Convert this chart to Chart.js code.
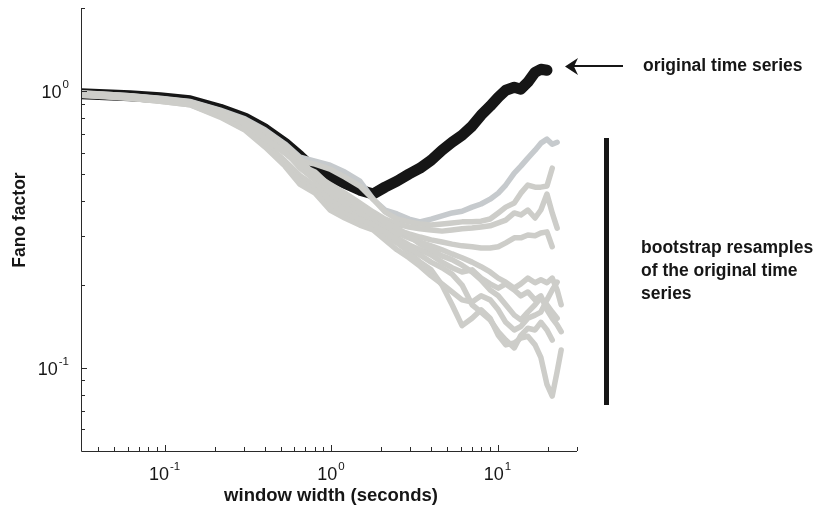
<!DOCTYPE html>
<html>
<head>
<meta charset="utf-8">
<title>Fano factor vs window width</title>
<script src="https://cdn.jsdelivr.net/npm/chart.js@4.4.1/dist/chart.umd.min.js"></script>
<style>
  html, body { margin: 0; padding: 0; background: #ffffff; }
  canvas { display: block; }
</style>
</head>
<body>
<canvas id="fano" width="817" height="510"></canvas>
<script>
// Counting window widths (seconds), shared by every curve
const windowWidths = [0.0315, 0.044, 0.062, 0.094, 0.142, 0.216, 0.304, 0.402, 0.529, 0.652,
  0.802, 0.986, 1.21, 1.49, 1.79, 2.11, 2.49, 2.94, 3.42, 3.99,
  4.64, 5.33, 6.12, 7.03, 7.96, 9.02, 10.1, 11.2, 12.6, 13.8,
  15.2, 16.8, 18.2, 19.8, 21.3, 22.8, 24.1];

// Fano factor of the original time series
const original = [0.979, 0.971, 0.963, 0.947, 0.924, 0.861, 0.799, 0.729, 0.649, 0.582,
  0.518, 0.493, 0.465, 0.439, 0.425, 0.450, 0.473, 0.502, 0.527, 0.563,
  0.612, 0.654, 0.693, 0.748, 0.819, 0.883, 0.951, 1.008, 1.034, 1.017,
  1.078, 1.171, 1.201, 1.191];

// Fano factor of ten bootstrap resamples
const resample1 = [0.984, 0.975, 0.963, 0.944, 0.918, 0.855, 0.794, 0.724, 0.645, 0.577,
  0.559, 0.540, 0.510, 0.473, 0.407, 0.372, 0.360, 0.345, 0.337, 0.345,
  0.354, 0.363, 0.368, 0.381, 0.391, 0.407, 0.428, 0.458, 0.506, 0.536,
  0.573, 0.612, 0.649, 0.671, 0.643, 0.654];
const resample2 = [0.979, 0.971, 0.959, 0.940, 0.913, 0.847, 0.779, 0.705, 0.628, 0.559,
  0.545, 0.523, 0.489, 0.454, 0.407, 0.366, 0.345, 0.337, 0.331, 0.328,
  0.331, 0.334, 0.337, 0.337, 0.339, 0.345, 0.363, 0.381, 0.394, 0.428,
  0.458, 0.450, 0.450, 0.454, 0.527];
const resample3 = [0.975, 0.967, 0.955, 0.936, 0.909, 0.840, 0.773, 0.693, 0.612, 0.549,
  0.497, 0.461, 0.428, 0.394, 0.366, 0.345, 0.331, 0.323, 0.318, 0.315,
  0.312, 0.315, 0.318, 0.320, 0.323, 0.326, 0.334, 0.342, 0.363, 0.357,
  0.372, 0.348, 0.372, 0.425, 0.363, 0.320];
const resample4 = [0.971, 0.963, 0.951, 0.932, 0.905, 0.833, 0.760, 0.682, 0.602, 0.536,
  0.485, 0.446, 0.414, 0.381, 0.354, 0.331, 0.315, 0.305, 0.297, 0.290,
  0.285, 0.280, 0.276, 0.274, 0.271, 0.271, 0.274, 0.283, 0.295, 0.295,
  0.302, 0.300, 0.307, 0.310, 0.274];
const resample5 = [0.984, 0.971, 0.959, 0.936, 0.905, 0.840, 0.766, 0.688, 0.607, 0.527,
  0.477, 0.421, 0.387, 0.360, 0.337, 0.315, 0.295, 0.278, 0.267, 0.256,
  0.241, 0.230, 0.222, 0.226, 0.211, 0.201, 0.194, 0.201, 0.191, 0.182,
  0.188, 0.176, 0.182, 0.162, 0.151, 0.143, 0.135];
const resample6 = [0.967, 0.959, 0.947, 0.924, 0.898, 0.815, 0.735, 0.650, 0.560, 0.495,
  0.454, 0.404, 0.372, 0.345, 0.320, 0.300, 0.283, 0.262, 0.241, 0.226,
  0.199, 0.169, 0.142, 0.151, 0.162, 0.151, 0.131, 0.121, 0.123, 0.128,
  0.130, 0.121, 0.109, 0.087, 0.079, 0.097, 0.116];
const resample7 = [0.988, 0.975, 0.963, 0.940, 0.916, 0.850, 0.788, 0.718, 0.640, 0.570,
  0.493, 0.439, 0.404, 0.372, 0.348, 0.326, 0.307, 0.295, 0.285, 0.276,
  0.267, 0.258, 0.250, 0.241, 0.232, 0.222, 0.211, 0.204, 0.194, 0.201,
  0.211, 0.203, 0.208, 0.203, 0.211, 0.191, 0.169];
const resample8 = [0.971, 0.959, 0.944, 0.920, 0.894, 0.812, 0.728, 0.640, 0.548, 0.475,
  0.439, 0.387, 0.360, 0.342, 0.328, 0.310, 0.290, 0.271, 0.256, 0.241,
  0.230, 0.218, 0.199, 0.169, 0.159, 0.149, 0.135, 0.126, 0.118, 0.131,
  0.139, 0.137, 0.146, 0.137, 0.126];
const resample9 = [0.979, 0.967, 0.955, 0.932, 0.905, 0.833, 0.760, 0.676, 0.597, 0.540,
  0.510, 0.454, 0.418, 0.384, 0.357, 0.337, 0.320, 0.300, 0.280, 0.267,
  0.254, 0.246, 0.235, 0.222, 0.208, 0.191, 0.182, 0.169, 0.155, 0.149,
  0.159, 0.169, 0.179, 0.169, 0.159, 0.151];
const resample10 = [0.967, 0.955, 0.944, 0.920, 0.894, 0.806, 0.723, 0.628, 0.536, 0.460,
  0.428, 0.372, 0.348, 0.328, 0.315, 0.290, 0.267, 0.250, 0.233, 0.215,
  0.201, 0.188, 0.176, 0.173, 0.182, 0.176, 0.162, 0.146, 0.137, 0.141,
  0.151, 0.155, 0.159, 0.176, 0.191, 0.204];

// Axis ticks
const xMajorTicks = [0.1, 1, 10];
const xMinorTicks = [0.04, 0.05, 0.06, 0.07, 0.08, 0.09, 0.2, 0.3, 0.4, 0.5, 0.6, 0.7, 0.8, 0.9,
  2, 3, 4, 5, 6, 7, 8, 9, 20, 30];
const yMajorTicks = [0.1, 1];
const yMinorTicks = [0.06, 0.07, 0.08, 0.09, 0.2, 0.3, 0.4, 0.5, 0.6, 0.7, 0.8, 0.9, 2];

const xRange = [0.0315, 30];
const yRange = [0.05, 2];

const INK = '#161616';
const GREY = '#cdcdc9';
const GREY_BLUE = '#c6cacd';
const FONT = '"Liberation Sans", Arial, Helvetica, sans-serif';

function toPoints(series) {
  return series.map((v, i) => ({ x: windowWidths[i], y: v }));
}

const resamples = [resample1, resample2, resample3, resample4, resample5,
  resample6, resample7, resample8, resample9, resample10];

const datasets = [{
  label: 'original time series',
  data: toPoints(original),
  borderColor: INK,
  borderWidth: 11,
  order: 20
}].concat(resamples.map((s, k) => ({
  label: 'bootstrap resample ' + (k + 1),
  data: toPoints(s),
  borderColor: k === 0 ? GREY_BLUE : GREY,
  borderWidth: 5.5,
  order: 10 - k
})));

datasets.forEach(d => {
  d.showLine = true;
  d.pointRadius = 0;
  d.fill = false;
  d.tension = 0;
  d.borderJoinStyle = 'round';
  d.borderCapStyle = 'round';
});

// "10" with a raised exponent
function powerLabel(ctx, exp, x, baseline, align) {
  const big = '18px ' + FONT, small = '11.5px ' + FONT;
  ctx.font = big;
  const wBase = ctx.measureText('10').width;
  ctx.font = small;
  const sup = String(exp);
  const wSup = ctx.measureText(sup).width;
  const total = wBase + 1 + wSup;
  const left = align === 'right' ? x - total : x - total / 2;
  ctx.textAlign = 'left';
  ctx.textBaseline = 'alphabetic';
  ctx.font = big;
  ctx.fillText('10', left, baseline);
  ctx.font = small;
  ctx.fillText(sup, left + wBase + 1, baseline - 10);
}

const axesAndNotes = {
  id: 'axesAndNotes',
  afterDatasetsDraw(chart) {
    const { ctx, chartArea: a, scales } = chart;
    const xs = scales.x, ys = scales.y;
    ctx.save();
    ctx.fillStyle = INK;
    ctx.strokeStyle = '#2a2a2a';
    ctx.lineWidth = 1;

    // axis lines
    ctx.beginPath();
    ctx.moveTo(a.left + 0.5, a.top);
    ctx.lineTo(a.left + 0.5, a.bottom + 0.5);
    ctx.lineTo(a.right, a.bottom + 0.5);
    ctx.stroke();

    // inward ticks
    ctx.beginPath();
    const xTick = (v, len) => {
      const px = Math.round(xs.getPixelForValue(v)) + 0.5;
      ctx.moveTo(px, a.bottom);
      ctx.lineTo(px, a.bottom - len);
    };
    const yTick = (v, len) => {
      const py = Math.round(ys.getPixelForValue(v)) + 0.5;
      ctx.moveTo(a.left, py);
      ctx.lineTo(a.left + len, py);
    };
    xMinorTicks.forEach(v => xTick(v, 4));
    xMajorTicks.forEach(v => xTick(v, 6));
    yMinorTicks.forEach(v => yTick(v, 4));
    yMajorTicks.forEach(v => yTick(v, 6));
    ctx.stroke();

    // tick labels
    xMajorTicks.forEach(v => {
      powerLabel(ctx, Math.round(Math.log10(v)), xs.getPixelForValue(v), a.bottom + 29, 'center');
    });
    yMajorTicks.forEach(v => {
      powerLabel(ctx, Math.round(Math.log10(v)), a.left - 12, ys.getPixelForValue(v) + 7, 'right');
    });

    // axis titles
    ctx.textAlign = 'center';
    ctx.textBaseline = 'alphabetic';
    ctx.font = 'bold 18.5px ' + FONT;
    ctx.fillText('window width (seconds)', (a.left + a.right) / 2 + 2, 501);
    ctx.save();
    ctx.translate(25, 220);
    ctx.rotate(-Math.PI / 2);
    ctx.font = 'bold 17.5px ' + FONT;
    ctx.fillText('Fano factor', 0, 0);
    ctx.restore();

    // pointer to the original series
    ctx.strokeStyle = INK;
    ctx.lineWidth = 2;
    ctx.beginPath();
    ctx.moveTo(623, 66);
    ctx.lineTo(572, 66);
    ctx.stroke();
    ctx.beginPath();
    ctx.moveTo(565, 66.5);
    ctx.lineTo(578, 58);
    ctx.lineTo(574, 66.5);
    ctx.lineTo(578, 75);
    ctx.closePath();
    ctx.fill();

    // bracket for the resamples
    ctx.fillRect(604, 138, 5, 267);

    // annotations
    ctx.textAlign = 'left';
    ctx.font = 'bold 17.5px ' + FONT;
    ctx.fillText('original time series', 643, 71);
    ctx.fillText('bootstrap resamples', 641, 253);
    ctx.fillText('of the original time', 641, 276);
    ctx.fillText('series', 641, 299);

    ctx.restore();
  }
};

new Chart(document.getElementById('fano'), {
  type: 'scatter',
  data: { datasets },
  options: {
    responsive: false,
    animation: false,
    events: [],
    layout: { padding: { left: 81, right: 240, top: 8, bottom: 59 } },
    scales: {
      x: { type: 'logarithmic', min: xRange[0], max: xRange[1], display: false },
      y: { type: 'logarithmic', min: yRange[0], max: yRange[1], display: false }
    },
    plugins: {
      legend: { display: false },
      tooltip: { enabled: false }
    }
  },
  plugins: [axesAndNotes]
});
</script>
</body>
</html>
